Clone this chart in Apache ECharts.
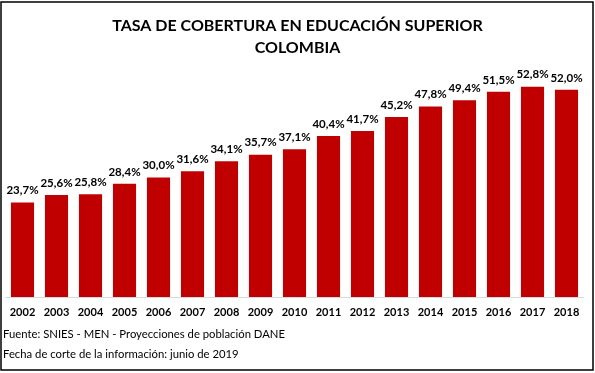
<!DOCTYPE html>
<html><head><meta charset="utf-8">
<script src="https://cdn.jsdelivr.net/npm/echarts@6/dist/echarts.min.js"></script>
<style>html,body{margin:0;padding:0;background:#fff}#c{width:595px;height:373px}</style>
</head><body><div id="c"></div>
<script>
const categories = ['2002','2003','2004','2005','2006','2007','2008','2009','2010','2011','2012','2013','2014','2015','2016','2017','2018'];
const coverage = [23.7,25.6,25.8,28.4,30.0,31.6,34.1,35.7,37.1,40.4,41.7,45.2,47.8,49.4,51.5,52.8,52.0];
const titleText = 'TASA DE COBERTURA EN EDUCACIÓN SUPERIOR\nCOLOMBIA';
const sourceText = 'Fuente: SNIES - MEN - Proyecciones de población DANE';
const dateText = 'Fecha de corte de la información: junio de 2019';
const FONT = 'Lato';
const chart = echarts.init(document.getElementById('c'), null, {renderer:'canvas'});
chart.setOption({
  animation:false,
  backgroundColor:'#fff',
  title:{text:titleText,left:'center',top:10,textStyle:{fontFamily:FONT,fontWeight:'bold',fontSize:16,lineHeight:22,color:'#000'}},
  grid:{left:5.5,right:11.5,top:58,bottom:76,containLabel:false},
  xAxis:{type:'category',data:categories,axisLine:{lineStyle:{color:'#d9d9d9',width:1}},axisTick:{show:false},
    axisLabel:{margin:10,fontFamily:FONT,fontWeight:'bold',fontSize:11,color:'#000',interval:0}},
  yAxis:{type:'value',min:0,max:60,show:false,splitLine:{show:false}},
  series:[{type:'bar',data:coverage,barCategoryGap:'32%',itemStyle:{color:'#C00000'},
    label:{show:true,position:'top',distance:6,fontFamily:FONT,fontWeight:'bold',fontSize:11.5,color:'#000',
      formatter:p=>p.value.toFixed(1).replace('.',',')+'%'}}],
  graphic:[
    {type:'rect',shape:{x:1,y:2,width:592,height:368},style:{fill:'none',stroke:'#000',lineWidth:1.5},silent:true},
    {type:'text',left:3,top:329,style:{text:sourceText,fontFamily:FONT,fontSize:11.3,fill:'#000'}},
    {type:'text',left:3,top:349,style:{text:dateText,fontFamily:FONT,fontSize:11.3,fill:'#000'}}
  ]
});
</script></body></html>
